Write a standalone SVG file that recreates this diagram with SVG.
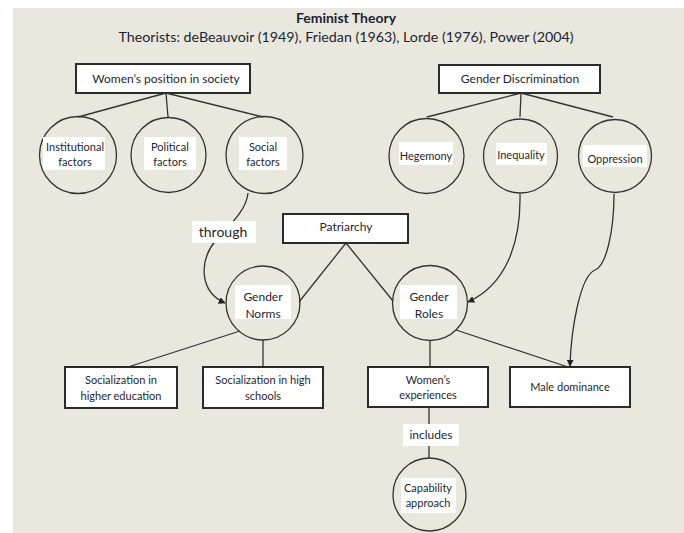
<svg xmlns="http://www.w3.org/2000/svg" width="684" height="533" viewBox="0 0 684 533">
<defs>
<style>
.bg{fill:#e9e8de}
.box{fill:#fff;stroke:#2b2b2b;stroke-width:2}
.circ{fill:none;stroke:#333;stroke-width:1.3}
.lbl{fill:#fff}
.ln{fill:none;stroke:#333;stroke-width:1.3}
text{font-family:Lato,"Liberation Sans",sans-serif;fill:#1f1f33;text-anchor:middle}
.t11{font-size:11px}
.t12{font-size:12px}
.t14{font-size:14px}
</style>
<marker id="arr" viewBox="0 0 10 10" refX="9" refY="5" markerWidth="7" markerHeight="7" orient="auto" markerUnits="userSpaceOnUse">
<path d="M0,0 L10,5 L0,10 z" fill="#222"/>
</marker>
</defs>
<rect x="13" y="8" width="671" height="525" class="bg"/>
<g id="title">
<text x="346" y="23" style="font-size:14px;font-weight:bold" fill="#111">Feminist Theory</text>
<text x="346" y="42" class="t14" textLength="455" lengthAdjust="spacingAndGlyphs">Theorists: deBeauvoir (1949), Friedan (1963), Lorde (1976), Power (2004)</text>
</g>
<g id="connectors">
<line class="ln" x1="166" y1="93" x2="78" y2="117"/>
<line class="ln" x1="166" y1="93" x2="168" y2="117"/>
<line class="ln" x1="166" y1="93" x2="263" y2="117"/>
<line class="ln" x1="521" y1="93" x2="427" y2="117"/>
<line class="ln" x1="521" y1="93" x2="520" y2="117"/>
<line class="ln" x1="521" y1="93" x2="613" y2="117"/>
<line class="ln" x1="346" y1="243" x2="299" y2="302"/>
<line class="ln" x1="346" y1="243" x2="393" y2="301"/>
<path class="ln" d="M248,193 C246,212 228,226 216,240 C198,262 200,292 225,303" marker-end="url(#arr)"/>
<path class="ln" d="M520,194 C521,245 505,285 468,302" marker-end="url(#arr)"/>
<path class="ln" d="M614,194 C614,232 606,266 595,270 C580,276 571,330 570,366" marker-end="url(#arr)"/>
<line class="ln" x1="456" y1="330" x2="568" y2="367"/>
<line class="ln" x1="430" y1="340" x2="430" y2="367"/>
<line class="ln" x1="240" y1="331" x2="128" y2="367"/>
<line class="ln" x1="263" y1="340" x2="263" y2="367"/>
<line class="ln" x1="429" y1="407" x2="429" y2="458"/>
</g>
<g id="through">
<rect class="lbl" x="192" y="221" width="64" height="22"/>
<text x="223" y="237" class="t14">through</text>
</g>
<g id="includes">
<rect class="lbl" x="403" y="424" width="56" height="22"/>
<text x="431" y="439" class="t12">includes</text>
</g>
<g id="womens-position">
<rect class="box" x="76" y="64" width="174" height="29"/>
<text x="166" y="83" class="t12">Women’s position in society</text>
</g>
<g id="institutional">
<circle class="circ" cx="78" cy="155" r="38.5"/>
<rect class="lbl" x="43" y="137" width="62" height="33"/>
<text x="75" y="151" class="t11">Institutional</text>
<text x="75" y="166" class="t11">factors</text>
</g>
<g id="political">
<circle class="circ" cx="168.5" cy="155" r="37.5"/>
<rect class="lbl" x="144" y="137" width="52" height="33"/>
<text x="170" y="151" class="t11">Political</text>
<text x="170" y="166" class="t11">factors</text>
</g>
<g id="social">
<circle class="circ" cx="264.5" cy="155" r="38.5"/>
<rect class="lbl" x="239" y="137" width="48" height="33"/>
<text x="263" y="151" class="t11">Social</text>
<text x="263" y="166" class="t11">factors</text>
</g>
<g id="gender-discrimination">
<rect class="box" x="439" y="65" width="161" height="28"/>
<text x="520" y="83" class="t12">Gender Discrimination</text>
</g>
<g id="hegemony">
<circle class="circ" cx="426.5" cy="156" r="37.5"/>
<rect class="lbl" x="399" y="142" width="54" height="23"/>
<text x="426" y="160" class="t11">Hegemony</text>
</g>
<g id="inequality">
<circle class="circ" cx="520.5" cy="156" r="37"/>
<rect class="lbl" x="496" y="143" width="51" height="22"/>
<text x="521" y="159" class="t11">Inequality</text>
</g>
<g id="oppression">
<circle class="circ" cx="615" cy="156" r="36.5"/>
<rect class="lbl" x="583" y="145" width="64" height="22"/>
<text x="615" y="163" class="t11">Oppression</text>
</g>
<g id="patriarchy">
<rect class="box" x="283" y="214" width="125" height="29"/>
<text x="346" y="231" class="t12">Patriarchy</text>
</g>
<g id="gender-norms">
<circle class="circ" cx="263" cy="303" r="37"/>
<rect class="lbl" x="235" y="285" width="56" height="34"/>
<text x="263" y="301" class="t12">Gender</text>
<text x="263" y="318" class="t12">Norms</text>
</g>
<g id="gender-roles">
<circle class="circ" cx="430" cy="303" r="37.5"/>
<rect class="lbl" x="400" y="285" width="57" height="34"/>
<text x="429" y="301" class="t12">Gender</text>
<text x="429" y="318" class="t12">Roles</text>
</g>
<g id="soc-higher-ed">
<rect class="box" x="65" y="367" width="112" height="41"/>
<text x="121" y="384" class="t11">Socialization in</text>
<text x="121" y="400" class="t11">higher education</text>
</g>
<g id="soc-high-schools">
<rect class="box" x="203" y="367" width="120" height="41"/>
<text x="263" y="384" class="t11">Socialization in high</text>
<text x="263" y="400" class="t11">schools</text>
</g>
<g id="womens-experiences">
<rect class="box" x="368" y="367" width="120" height="40"/>
<text x="428" y="384" class="t11">Women’s</text>
<text x="428" y="399" class="t11">experiences</text>
</g>
<g id="male-dominance">
<rect class="box" x="510" y="367" width="120" height="40"/>
<text x="570" y="391" class="t11">Male dominance</text>
</g>
<g id="capability">
<circle class="circ" cx="429.5" cy="494.5" r="36.5"/>
<rect class="lbl" x="401" y="478" width="55" height="35"/>
<text x="428" y="492" class="t11">Capability</text>
<text x="428" y="507" class="t11">approach</text>
</g>
</svg>
